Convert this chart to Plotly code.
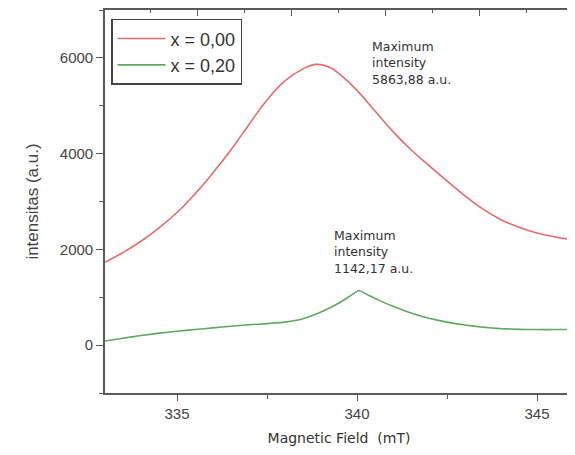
import plotly.graph_objects as go

# Data
field_a = [333.0, 333.5, 334.0, 334.5, 335.0, 335.5, 336.0, 336.5, 337.0, 337.5, 338.0,
           338.5, 338.85, 339.25, 339.5, 340.0, 340.5, 341.0, 341.5, 342.0, 342.5, 343.0,
           343.5, 344.0, 344.5, 345.0, 345.5, 346.0]
int_a = [1730, 1935, 2170, 2450, 2770, 3160, 3600, 4080, 4610, 5120, 5520,
         5770, 5863.88, 5800, 5670, 5320, 4890, 4460, 4080, 3750, 3430, 3120,
         2840, 2620, 2460, 2340, 2260, 2200]

field_b = [333.0, 333.5, 334.0, 334.5, 335.0, 335.5, 336.0, 336.5, 337.0, 337.5, 338.0,
           338.5, 339.0, 339.5, 339.8, 340.05, 340.3, 340.6, 341.0, 341.5, 342.0, 342.5,
           343.0, 343.5, 344.0, 344.5, 345.0, 345.5, 346.0]
int_b = [85, 145, 200, 250, 290, 325, 360, 395, 425, 450, 480,
         550, 690, 880, 1020, 1142.17, 1050, 940, 810, 670, 560, 480,
         420, 375, 345, 330, 325, 325, 325]

series_names = ["x = 0,00", "x = 0,20"]
x_ticks = [335, 340, 345]
x_tick_labels = ["335", "340", "345"]
y_ticks = [0, 2000, 4000, 6000]
y_tick_labels = ["0", "2000", "4000", "6000"]
ann_a = "Maximum<br>intensity<br>5863,88 a.u."
ann_b = "Maximum<br>intensity<br>1142,17 a.u."

AX = "#5a5a5a"
TXT = "#444444"

fig = go.Figure()
fig.add_trace(go.Scatter(x=field_a, y=int_a, mode="lines", name=series_names[0],
                         line=dict(color="#e86a6a", width=1.6, shape="spline", smoothing=1.3)))
fig.add_trace(go.Scatter(x=field_b, y=int_b, mode="lines", name=series_names[1],
                         line=dict(color="#5fa85f", width=1.6, shape="spline", smoothing=0.4)))
# invisible carrier so the decorative top/right tick axes are drawn
fig.add_trace(go.Scatter(x=[333], y=[-1000], xaxis="x2", yaxis="y2", mode="markers",
                         marker=dict(opacity=0, size=1), showlegend=False, hoverinfo="skip"))

fig.add_annotation(x=340.36, y=6432, xref="x", yref="y", text=ann_a, showarrow=False,
                   xanchor="left", yanchor="top", align="left",
                   font=dict(family="DejaVu Sans", size=12.5, color="#333333"))
fig.add_annotation(x=339.3, y=2490, xref="x", yref="y", text=ann_b, showarrow=False,
                   xanchor="left", yanchor="top", align="left",
                   font=dict(family="DejaVu Sans", size=12.5, color="#333333"))

# the page body adds an 8px offset, so the figure is sized/placed to compensate
fig.update_layout(
    width=567, height=447,
    margin=dict(l=97, r=2, t=2, b=62, autoexpand=False),
    paper_bgcolor="white", plot_bgcolor="white",
    showlegend=True,
    legend=dict(x=0.013, y=0.977, xanchor="left", yanchor="top",
                bordercolor="#444444", borderwidth=1.5, bgcolor="white",
                font=dict(family="Liberation Sans", size=18, color="#333333"),
                itemwidth=48, tracegroupgap=0),
    xaxis=dict(range=[333, 346], tickvals=x_ticks, ticktext=x_tick_labels, automargin=False,
               showgrid=False, zeroline=False, showline=True, linecolor=AX, linewidth=1.6,
               ticks="outside", ticklen=6, tickwidth=1.4, tickcolor=AX,
               minor=dict(dtick=2.5, tick0=335, ticks="outside", ticklen=4, tickcolor=AX, tickwidth=1.2),
               tickfont=dict(family="Liberation Sans", size=15, color=TXT),
               title=dict(text="Magnetic Field  (mT)", standoff=12,
                          font=dict(family="DejaVu Sans", size=14, color="#333333"))),
    yaxis=dict(range=[-1000, 7000], tickvals=y_ticks, ticktext=y_tick_labels, automargin=False,
               showgrid=False, zeroline=False, showline=True, linecolor=AX, linewidth=1.6,
               ticks="outside", ticklen=7, tickwidth=1.4, tickcolor=AX,
               minor=dict(dtick=1000, tick0=0, ticks="outside", ticklen=4, tickcolor=AX, tickwidth=1.2),
               tickfont=dict(family="Liberation Sans", size=15, color=TXT),
               title=dict(text="intensitas (a.u.)", standoff=17,
                          font=dict(family="Liberation Sans", size=17, color=TXT))),
    xaxis2=dict(overlaying="x", side="top", anchor="y", range=[333, 346], showticklabels=False,
                automargin=False, showgrid=False, zeroline=False, showline=True, linecolor=AX,
                linewidth=1.6, tick0=335.58, dtick=2.611, ticks="inside", ticklen=6,
                tickcolor=AX, tickwidth=1.4,
                minor=dict(tick0=334.275, dtick=1.3055, ticks="inside", ticklen=3, tickcolor=AX)),
    yaxis2=dict(overlaying="y", side="right", anchor="x", range=[-1000, 7000], showticklabels=False,
                automargin=False, showgrid=False, zeroline=False, showline=True, linecolor=AX,
                linewidth=1.6, tick0=5432, dtick=1621, ticks="inside", ticklen=6,
                tickcolor=AX, tickwidth=1.4,
                minor=dict(tick0=4621.5, dtick=810.5, ticks="inside", ticklen=3, tickcolor=AX)),
)

fig.write_html("out.html")
